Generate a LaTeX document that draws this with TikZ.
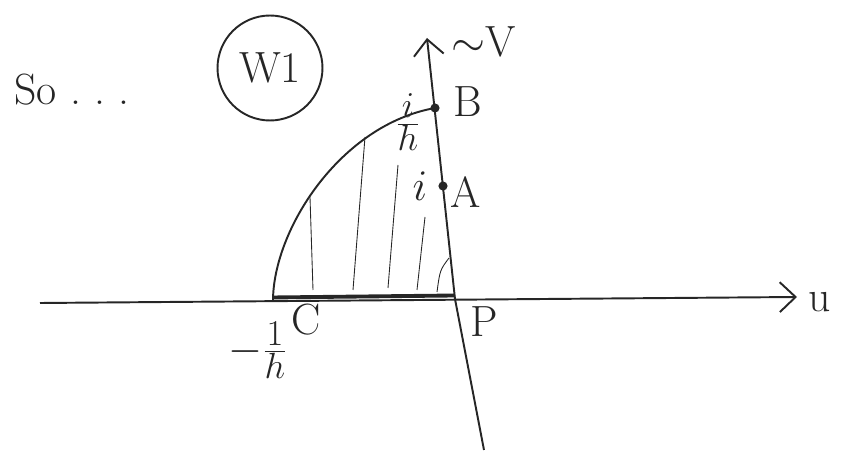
\documentclass[tikz,border=0pt]{standalone}
\usetikzlibrary{arrows.meta}
\begin{document}
\begin{tikzpicture}[x=.02cm,y=-.02cm,>={Straight Barb[length=9pt,width=17pt]},line width=1.1pt,font=\Huge,black!85,
  hatch/.style={line width=.5pt},lab/.style={inner sep=1pt}]
  \useasboundingbox (0,0) rectangle (843,452);
  \coordinate (uL) at (40,303);
  \coordinate (uR) at (797,297);
  \coordinate (vB) at (484,450);
  \coordinate (vT) at (427,38);
  \coordinate (P) at (455,299);
  \coordinate (A) at (443,186);
  \coordinate (B) at (435,108);
  \coordinate (C) at (273,301);
  \draw[->] (uL)--(uR);
  \draw[->] (vB)--(P)--(vT);
  \draw (C) .. controls (273,230) and (340,125) .. (B);
  \draw[line width=2.2pt] ([yshift=2pt]C)--([yshift=2pt]P);
  \draw[hatch] (310,197)--(313,290);
  \draw[hatch] (365,137)--(353,290);
  \draw[hatch] (398,165)--(388,288);
  \draw[hatch] (425,217)--(417,290);
  \draw[hatch] (437,292) .. controls (440,270) .. (449,258);
  \fill (A) circle (2.6pt);
  \fill (B) circle (2.6pt);
  \node[lab] (labB) at (468,102) {B};
  \node[lab] (labA) at (466,192) {A};
  \node[lab] (labP) at (484,322) {P};
  \node[lab] (labC) at (306,320) {C};
  \node[lab] (labih) at (408,122) {$\frac{i}{h}$};
  \node[lab] (labi) at (420,186) {$i$};
  \node[lab] (labh) at (258,350) {$-\frac{1}{h}$};
  \node[lab] (labu) at (820,302) {u};
  \node[lab] (labv) at (484,42) {$\sim$V};
  \node[lab] (so) at (72,90) {So\ .\ .\ .};
  \node[draw,circle,minimum size=2.1cm] (w1) at (270,68) {W1};
\end{tikzpicture}
\end{document}
